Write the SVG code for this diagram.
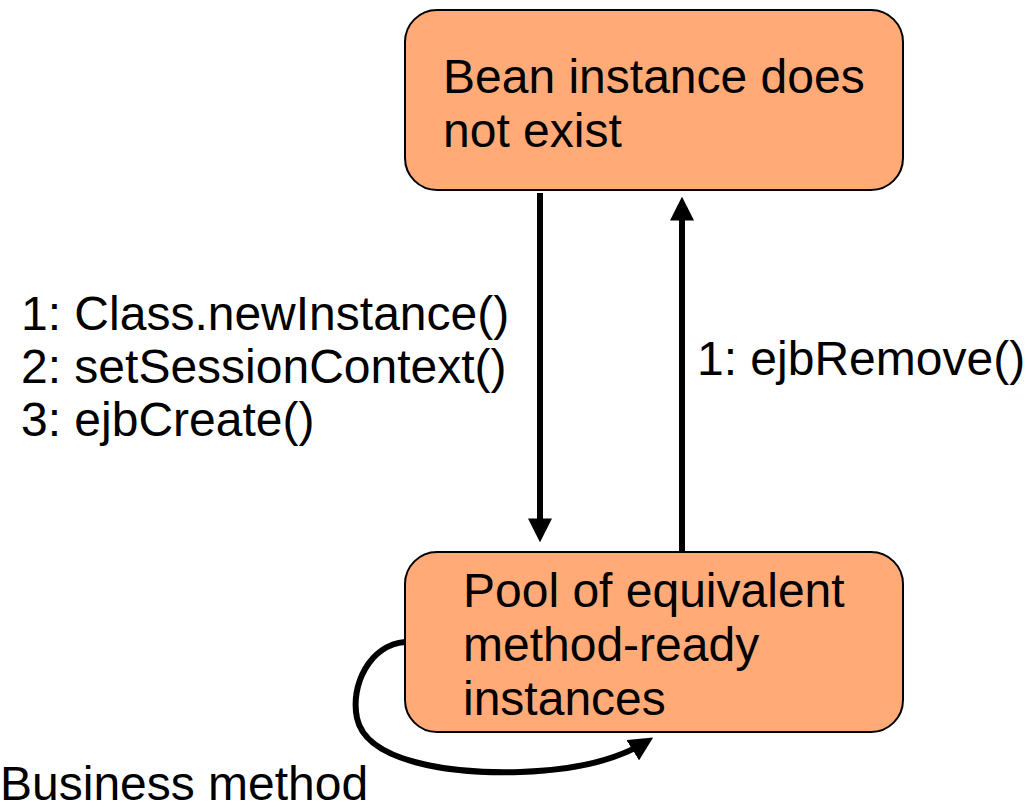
<svg xmlns="http://www.w3.org/2000/svg" width="1028" height="809" viewBox="0 0 1028 809">
<style>
.box{fill:#FFAA77;stroke:#000;stroke-width:2}
text{font-family:"Liberation Sans",Arial,sans-serif;font-size:48px;fill:#000}
.conn{fill:none;stroke:#000;stroke-width:6}
</style>
<defs>
<marker id="ah" markerWidth="4" markerHeight="4" refX="2.6" refY="2" orient="auto" markerUnits="strokeWidth">
<path d="M0,0 L4,2 L0,4 Z" fill="#000"/>
</marker>
</defs>
<rect width="1028" height="809" fill="#fff"/>
<g id="node-notexist">
<rect class="box" x="405" y="10" width="498" height="180" rx="32" ry="32"/>
<text x="443" y="93">Bean instance does</text>
<text x="443" y="147">not exist</text>
</g>
<g id="node-pool">
<rect class="box" x="405" y="552" width="498" height="180" rx="32" ry="32"/>
<text x="463" y="607">Pool of equivalent</text>
<text x="463" y="661">method-ready</text>
<text x="463" y="715">instances</text>
</g>
<g id="connectors">
<line class="conn" x1="540" y1="193" x2="540" y2="534" marker-end="url(#ah)"/>
<line class="conn" x1="682" y1="551" x2="682" y2="205" marker-end="url(#ah)"/>
<path class="conn" d="M405,642 C370,645 350,685 357,718 C366,762 450,774 520,772 C580,770 620,758 646,742" marker-end="url(#ah)"/>
</g>
<g id="labels">
<text x="21" y="330">1: Class.newInstance()</text>
<text x="21" y="383">2: setSessionContext()</text>
<text x="21" y="436">3: ejbCreate()</text>
<text x="697" y="375">1: ejbRemove()</text>
<text x="0" y="800">Business method</text>
</g>
</svg>
